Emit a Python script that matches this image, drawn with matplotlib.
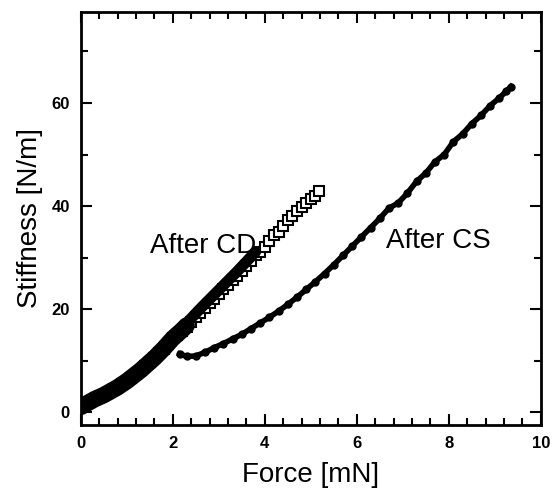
import matplotlib
matplotlib.use('Agg')
import matplotlib.pyplot as plt
from matplotlib.ticker import MultipleLocator

plt.rcParams['font.family'] = ['Liberation Sans', 'DejaVu Sans']

# After CD (open squares)
# (below ~2.2 mN they are buried in the black loading band)
cd_force = [0.00, 0.10, 0.20, 0.30, 0.40, 0.50, 0.60, 0.70, 0.80, 0.90,
            1.00, 1.10, 1.20, 1.30, 1.40, 1.50, 1.60, 1.70, 1.80, 1.90,
            2.00, 2.10, 2.20, 2.30, 2.40, 2.50, 2.60, 2.70, 2.80,
            2.90, 3.00, 3.10, 3.20, 3.30, 3.40, 3.50, 3.60, 3.70, 3.80,
            3.90, 4.00, 4.10, 4.20, 4.30, 4.40, 4.50, 4.60, 4.70, 4.80,
            4.90, 5.00, 5.10, 5.17]
cd_stiff = [1.0, 1.5, 2.0, 2.5, 2.9, 3.3, 3.8, 4.3, 4.8, 5.4,
            6.0, 6.7, 7.4, 8.1, 8.9, 9.7, 10.5, 11.4, 12.3, 13.3,
            14.3, 15.0, 15.7, 16.6, 17.5, 18.4, 19.3, 20.2, 21.1,
            22.0, 22.9, 23.8, 24.7, 25.6, 26.5, 27.4, 28.4, 29.4, 30.4,
            31.0, 32.0, 33.2, 34.3, 35.0, 36.2, 37.3, 38.0, 39.0, 39.8,
            40.6, 41.3, 42.0, 43.0]

# dense filled loading data, thick part near the origin
band_force = [0.00, 0.10, 0.20, 0.30, 0.40, 0.50, 0.60, 0.70, 0.80, 0.90,
              1.00, 1.10, 1.20, 1.30, 1.40, 1.50, 1.60, 1.70, 1.80, 1.90,
              2.00, 2.10, 2.20, 2.30]
band_stiff = [1.0, 1.5, 2.0, 2.5, 2.9, 3.3, 3.8, 4.3, 4.8, 5.4,
              6.0, 6.7, 7.4, 8.1, 8.9, 9.7, 10.5, 11.4, 12.3, 13.3,
              14.3, 15.1, 15.9, 16.8]

# thinner continuation hugging the squares
strip_force = [2.20, 2.40, 2.60, 2.80, 3.00, 3.20, 3.40, 3.60, 3.80]
strip_stiff = [16.2, 18.2, 20.1, 21.9, 23.7, 25.5, 27.3, 29.2, 31.1]

# After CS (filled dots)
cs_force = [2.15, 2.30, 2.50, 2.70, 2.90, 3.10, 3.30, 3.50, 3.70, 3.90,
            4.10, 4.30, 4.50, 4.70, 4.90, 5.10, 5.30, 5.50, 5.70, 5.90,
            6.10, 6.30, 6.50, 6.70, 6.90, 7.10, 7.30, 7.50, 7.70, 7.90,
            8.10, 8.30, 8.50, 8.70, 8.90, 9.10, 9.25, 9.35]
cs_stiff = [11.3, 10.8, 10.9, 11.6, 12.5, 13.3, 14.2, 15.1, 16.2, 17.3,
            18.4, 19.6, 20.9, 22.3, 23.8, 25.3, 26.9, 28.6, 30.4, 32.2,
            34.0, 35.8, 37.6, 39.6, 40.6, 42.5, 44.8, 46.4, 48.6, 50.0,
            52.5, 54.0, 56.0, 57.6, 59.5, 61.0, 62.3, 63.2]

fig = plt.figure(figsize=(5.53, 4.93), dpi=100)
ax = fig.add_axes([0.146, 0.138, 0.832, 0.838])

ax.plot(cd_force, cd_stiff, 's', mfc='white', mec='black', mew=1.5, ms=7.5, zorder=2)
ax.plot(band_force, band_stiff, '-', color='black', lw=12,
        solid_capstyle='round', zorder=3)
ax.plot(strip_force, strip_stiff, '-', color='black', lw=8,
        solid_capstyle='round', zorder=3)
ax.plot(cs_force, cs_stiff, '-o', color='black', lw=4, ms=5, zorder=3)

ax.text(1.5, 30.9, 'After CD', fontsize=20, zorder=1)
ax.text(6.64, 31.9, 'After CS', fontsize=20)

ax.set_xlim(0, 10)
ax.set_ylim(-2.5, 77.7)
ax.xaxis.set_major_locator(MultipleLocator(2))
ax.xaxis.set_minor_locator(MultipleLocator(0.4))
ax.yaxis.set_major_locator(MultipleLocator(20))
ax.yaxis.set_minor_locator(MultipleLocator(10))
ax.tick_params(which='both', direction='in', top=True, right=True, width=1.5)
ax.tick_params(which='major', length=8, labelsize=12, pad=8)
ax.tick_params(which='minor', length=5)
for lab in ax.get_xticklabels() + ax.get_yticklabels():
    lab.set_fontweight('bold')
for sp in ax.spines.values():
    sp.set_linewidth(2)

ax.set_xlabel('Force [mN]', fontsize=20, labelpad=8)
ax.set_ylabel('Stiffness [N/m]', fontsize=20, labelpad=6)

plt.savefig('out.png', dpi=100)
